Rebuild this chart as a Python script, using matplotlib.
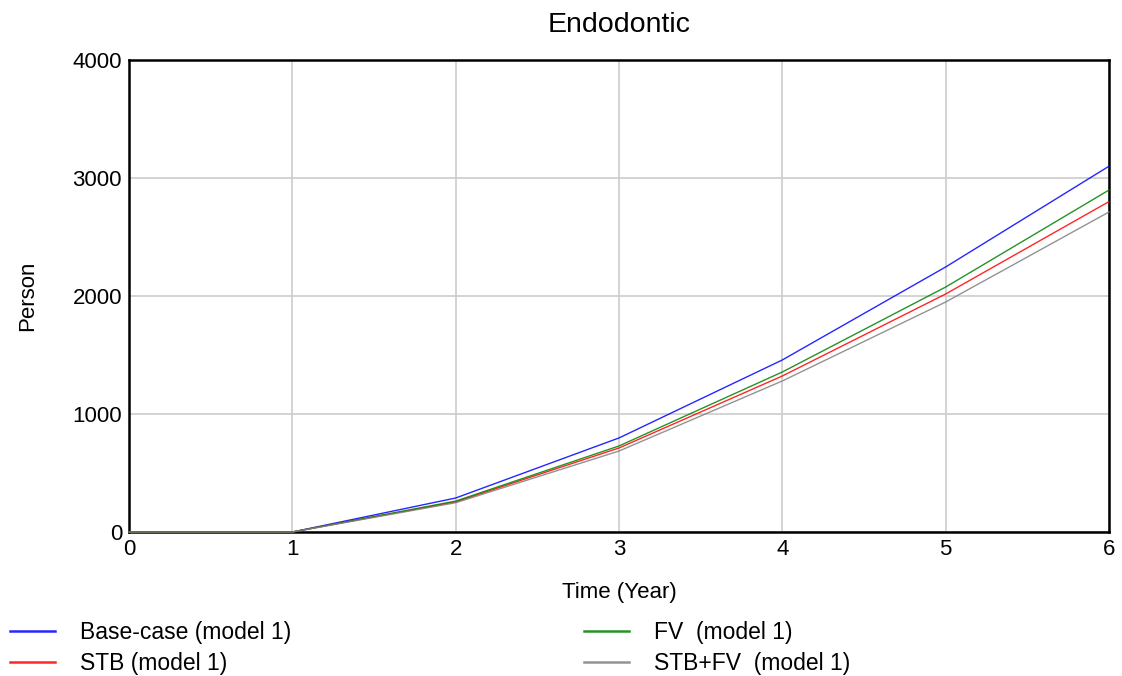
import numpy as np
import matplotlib.pyplot as plt

plt.rcParams['font.family'] = ['Liberation Sans', 'DejaVu Sans']

# ---------------- data ----------------
years = [0, 1, 2, 3, 4, 5, 6]
base_case = [0, 0, 288, 797, 1458, 2246, 3100]
fv = [0, 0, 262, 729, 1356, 2076, 2898]
stb = [0, 0, 255, 712, 1322, 2017, 2800]
stb_fv = [0, 0, 248, 686, 1280, 1949, 2712]

series_names = ["Base-case (model 1)", "STB (model 1)", "FV  (model 1)", "STB+FV  (model 1)"]
series_values = [base_case, stb, fv, stb_fv]
series_colors = ["#0000ff", "#ff0000", "#008000", "#808080"]

fig = plt.figure(figsize=(11.22, 6.76), dpi=100)
ax = fig.add_axes([129/1122, 1 - 532/676, (1109-129)/1122, (532-60)/676])

handles = []
for name, vals, col in zip(series_names, series_values, series_colors):
    h, = ax.plot(years, vals, color=col, lw=1.0, alpha=0.85, label=name,
                 zorder=3, clip_on=False)
    handles.append(h)

ax.set_xlim(0, 6)
ax.set_ylim(0, 4000)
ax.set_xticks(range(0, 7))
ax.set_yticks(range(0, 4001, 1000))
ax.grid(True, color="#cccccc", lw=1.2)
ax.set_axisbelow(True)
ax.tick_params(length=0, labelsize=16, pad=5)
for sp in ax.spines.values():
    sp.set_linewidth(1.8)
    sp.set_color("black")
    sp.set_zorder(2)

ax.set_title("Endodontic", fontsize=20.5, pad=20)
ax.set_xlabel("Time (Year)", fontsize=16, labelpad=16)
ax.set_ylabel("Person", fontsize=16, labelpad=25)

leg = fig.legend(handles=handles, loc="upper left", bbox_to_anchor=(10/1122, 0.082),
                 ncol=2, frameon=False, fontsize=16.5, handlelength=1.95,
                 handletextpad=1.1, columnspacing=12.8, labelspacing=0.35,
                 borderaxespad=0, borderpad=0)
for line in leg.get_lines():
    line.set_linewidth(1.8)

fig.savefig("out.png", dpi=100)
